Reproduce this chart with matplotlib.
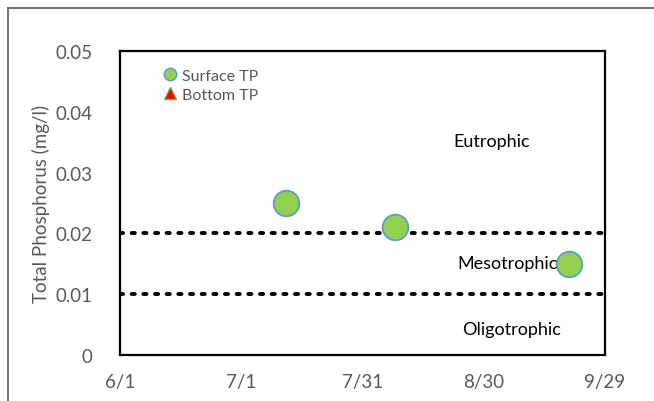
import datetime as dt
import matplotlib
matplotlib.use("Agg")
import matplotlib.pyplot as plt
from matplotlib.lines import Line2D

plt.rcParams['font.family'] = ['Lato', 'DejaVu Sans']

# data
surface_dates = ["2019-07-12", "2019-08-08", "2019-09-20"]
surface_tp = [0.025, 0.021, 0.015]
bottom_dates = []
bottom_tp = []

meso_limit = 0.02
oligo_limit = 0.01
xtick_dates = ["2019-06-01", "2019-07-01", "2019-07-31", "2019-08-30", "2019-09-29"]
xtick_labels = ["6/1", "7/1", "7/31", "8/30", "9/29"]
yticks = [0, 0.01, 0.02, 0.03, 0.04, 0.05]
ytick_labels = ["0", "0.01", "0.02", "0.03", "0.04", "0.05"]

gray = "#595959"
toD = lambda s: dt.datetime.strptime(s, "%Y-%m-%d")

fig = plt.figure(figsize=(6.54, 4.02), dpi=100)
ax = fig.add_axes([120 / 654, 1 - 356 / 402, 485 / 654, 304 / 402])

# outer chart frame (only left and top edges visible)
fx, fy = 7.5 / 654, 1 - 8.5 / 402
fig.add_artist(Line2D([fx, fx], [0, fy], transform=fig.transFigure, color=gray, linewidth=1.2))
fig.add_artist(Line2D([fx, 1], [fy, fy], transform=fig.transFigure, color=gray, linewidth=1.2))

x0, x1 = toD(xtick_dates[0]), toD(xtick_dates[-1])
for lim in [meso_limit, oligo_limit]:
    ax.plot([x0, x1], [lim] * 2, linestyle=(0, (0.8, 2.2)), color="black", linewidth=2.8,
            dash_capstyle="round", zorder=2)

ax.scatter([toD(d) for d in surface_dates], surface_tp, s=340, color="#92D050",
           edgecolor="#5B9BD5", linewidth=1.3, zorder=3)
ax.scatter([toD(d) for d in bottom_dates], bottom_tp, s=60, marker="^", color="#FF0000",
           edgecolor="#70AD47", linewidth=1.0, zorder=3)

ax.set_xlim(x0, x1)
ax.set_ylim(0, 0.05)
ax.set_xticks([toD(d) for d in xtick_dates])
ax.set_xticklabels(xtick_labels)
ax.set_yticks(yticks)
ax.set_yticklabels(ytick_labels)
ax.tick_params(length=0, labelsize=13.5, labelcolor=gray)
ax.tick_params(axis="x", pad=13)
ax.tick_params(axis="y", pad=20)
for s in ax.spines.values():
    s.set_linewidth(1.6)
    s.set_color("black")

ax.set_ylabel("Total Phosphorus (mg/l)", fontsize=13.5, color=gray, labelpad=4)

ax.text(toD("2019-09-01"), 0.0352, "Eutrophic", fontsize=13, ha="center", va="center")
ax.text(toD("2019-09-05"), 0.0152, "Mesotrophic", fontsize=13, ha="center", va="center")
ax.text(toD("2019-09-06"), 0.0043, "Oligotrophic", fontsize=13, ha="center", va="center")

handles = [
    Line2D([], [], linestyle="none", marker="o", markersize=9, markerfacecolor="#92D050",
           markeredgecolor="#5B9BD5", markeredgewidth=1.0),
    Line2D([], [], linestyle="none", marker="^", markersize=8, markerfacecolor="#FF0000",
           markeredgecolor="#70AD47", markeredgewidth=1.0),
]
ax.legend(handles, ["Surface TP", "Bottom TP"], loc="upper left", bbox_to_anchor=(0.058, 0.99),
          frameon=False, fontsize=11.5, labelcolor=gray, handletextpad=0.2, labelspacing=0.3,
          handlelength=1.0)

fig.savefig("out.png", dpi=100)
